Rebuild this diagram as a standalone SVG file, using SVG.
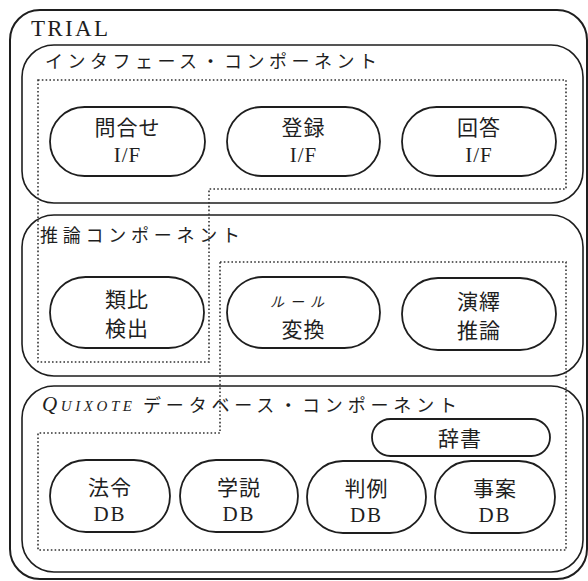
<svg xmlns="http://www.w3.org/2000/svg" width="588" height="581" viewBox="0 0 588 581">
<style>
.frame{fill:none;stroke:#1e1e1e;stroke-width:2}
.comp{fill:none;stroke:#1e1e1e;stroke-width:1.6}
.pill{fill:#fff;stroke:#1e1e1e;stroke-width:1.8}
.dot{fill:none;stroke:#333;stroke-width:1.6;stroke-dasharray:1.6 2.2}
.jp{font-family:"Noto Sans CJK JP","Noto Sans",sans-serif;fill:#1e1e1e}
.lat{font-family:"Liberation Serif","Noto Sans CJK JP",serif;fill:#1e1e1e}
.lbl{font-size:21px;text-anchor:middle}
.title{font-size:18px}
</style>
<rect width="588" height="581" fill="#fff"/>

<g id="trial">
<rect class="frame" x="10" y="10" width="577" height="569" rx="30"/>
<text class="lat" x="31" y="36" font-size="23" textLength="77" lengthAdjust="spacing">TRIAL</text>
</g>

<g id="interface-component">
<rect class="comp" x="22" y="45" width="561" height="158" rx="32"/>
<text class="jp title" x="45" y="68" textLength="332" lengthAdjust="spacing">インタフェース・コンポーネント</text>
</g>

<g id="inference-component">
<rect class="comp" x="22" y="215" width="561" height="161" rx="32"/>
<text class="jp title" x="40" y="242" textLength="200" lengthAdjust="spacing">推論コンポーネント</text>
</g>

<g id="quixote-component">
<rect class="comp" x="22" y="386" width="561" height="186" rx="32"/>
<text class="lat" x="42" y="411" font-size="21" font-style="italic" font-variant="small-caps" textLength="90" lengthAdjust="spacing">Quixote</text>
<text class="jp title" x="143" y="412" textLength="314" lengthAdjust="spacing">データベース・コンポーネント</text>
</g>

<g id="regions">
<path class="dot" d="M38,80 H566 V189 H209 V362 H38 Z"/>
<path class="dot" d="M220,262 H566 V550 H38 V433 H220 Z"/>
</g>

<g id="node-toiawase">
<rect class="pill" x="50" y="107" width="155" height="69" rx="34.5"/>
<text class="jp lbl" x="127.5" y="135" letter-spacing="1">問合せ</text>
<text class="lat lbl" x="127.5" y="162" font-size="23" letter-spacing="1">I/F</text>
</g>
<g id="node-touroku">
<rect class="pill" x="227" y="107" width="153" height="69" rx="34.5"/>
<text class="jp lbl" x="303.5" y="135" letter-spacing="1">登録</text>
<text class="lat lbl" x="303.5" y="162" font-size="23" letter-spacing="1">I/F</text>
</g>
<g id="node-kaitou">
<rect class="pill" x="402" y="107" width="154" height="69" rx="34.5"/>
<text class="jp lbl" x="479" y="135" letter-spacing="1">回答</text>
<text class="lat lbl" x="479" y="162" font-size="23" letter-spacing="1">I/F</text>
</g>

<g id="node-ruihi">
<rect class="pill" x="50" y="277" width="154" height="71" rx="35.5"/>
<text class="jp lbl" x="127" y="307" letter-spacing="1">類比</text>
<text class="jp lbl" x="127" y="336" letter-spacing="1">検出</text>
</g>
<g id="node-rule">
<rect class="pill" x="227" y="277" width="153" height="71" rx="35.5"/>
<text class="jp" x="300" y="307" font-size="14" font-style="italic" text-anchor="middle" letter-spacing="6">ルール</text>
<text class="jp lbl" x="303.5" y="337" letter-spacing="1">変換</text>
</g>
<g id="node-eneki">
<rect class="pill" x="402" y="278" width="154" height="72" rx="36"/>
<text class="jp lbl" x="479" y="309" letter-spacing="1">演繹</text>
<text class="jp lbl" x="479" y="338" letter-spacing="1">推論</text>
</g>

<g id="node-jisho">
<rect class="pill" x="372" y="419" width="178" height="37" rx="18.5"/>
<text class="jp lbl" x="460" y="446" letter-spacing="1">辞書</text>
</g>
<g id="node-hourei">
<rect class="pill" x="50" y="460" width="120" height="72" rx="36"/>
<text class="jp lbl" x="110" y="495" letter-spacing="1">法令</text>
<text class="lat lbl" x="110" y="521" font-size="23" letter-spacing="2">DB</text>
</g>
<g id="node-gakusetsu">
<rect class="pill" x="180" y="460" width="118" height="72" rx="36"/>
<text class="jp lbl" x="239" y="495" letter-spacing="1">学説</text>
<text class="lat lbl" x="239" y="521" font-size="23" letter-spacing="2">DB</text>
</g>
<g id="node-hanrei">
<rect class="pill" x="307" y="461" width="119" height="72" rx="36"/>
<text class="jp lbl" x="366.5" y="496" letter-spacing="1">判例</text>
<text class="lat lbl" x="366.5" y="522" font-size="23" letter-spacing="2">DB</text>
</g>
<g id="node-jian">
<rect class="pill" x="435" y="461" width="120" height="72" rx="36"/>
<text class="jp lbl" x="495" y="496" letter-spacing="1">事案</text>
<text class="lat lbl" x="495" y="522" font-size="23" letter-spacing="2">DB</text>
</g>
</svg>
